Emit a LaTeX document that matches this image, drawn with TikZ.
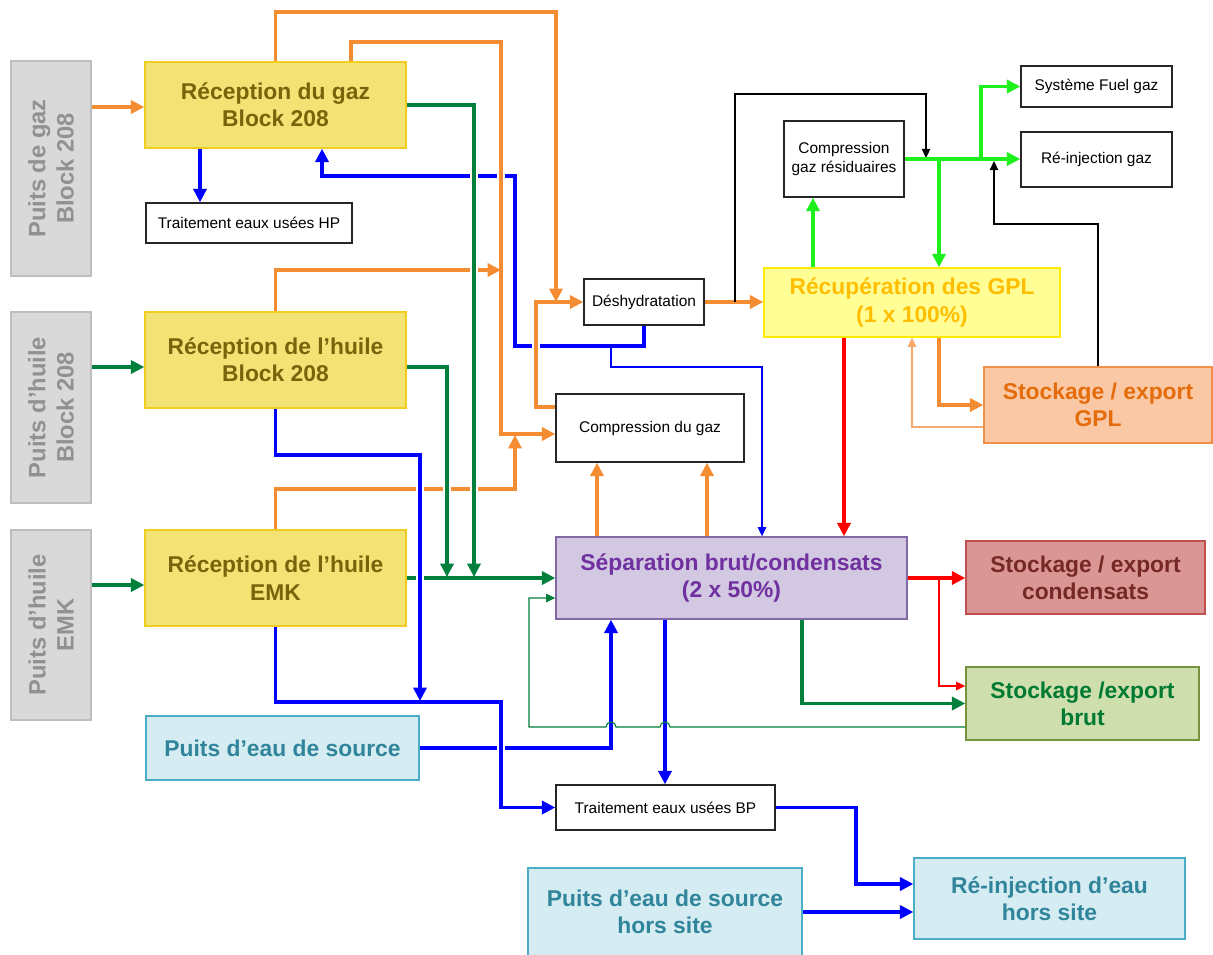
\documentclass[tikz,border=0pt]{standalone}
\usepackage{fontspec}
\setmainfont{Liberation Sans}
\usepackage{tikz}
\usetikzlibrary{arrows.meta,positioning,calc}
\definecolor{wellFill}{RGB}{217,217,217}
\definecolor{wellEdge}{RGB}{190,190,190}
\definecolor{wellText}{RGB}{145,145,145}
\definecolor{recFill}{RGB}{243,227,117}
\definecolor{recEdge}{RGB}{240,205,30}
\definecolor{recText}{RGB}{120,100,10}
\definecolor{lpgFill}{RGB}{255,255,150}
\definecolor{lpgEdge}{RGB}{255,235,0}
\definecolor{lpgText}{RGB}{255,190,0}
\definecolor{storeFill}{RGB}{250,200,165}
\definecolor{storeEdge}{RGB}{240,145,75}
\definecolor{storeText}{RGB}{228,108,10}
\definecolor{sepFill}{RGB}{210,200,225}
\definecolor{sepEdge}{RGB}{130,105,165}
\definecolor{sepText}{RGB}{112,48,160}
\definecolor{condFill}{RGB}{217,150,148}
\definecolor{condEdge}{RGB}{192,80,77}
\definecolor{condText}{RGB}{118,40,36}
\definecolor{crudeFill}{RGB}{206,222,172}
\definecolor{crudeEdge}{RGB}{118,146,60}
\definecolor{crudeText}{RGB}{0,122,50}
\definecolor{waterFill}{RGB}{212,236,242}
\definecolor{waterEdge}{RGB}{75,172,198}
\definecolor{waterText}{RGB}{49,133,155}
\definecolor{flowOrange}{RGB}{243,140,50}
\definecolor{flowPale}{RGB}{247,170,110}
\definecolor{flowGreen}{RGB}{0,128,60}
\definecolor{flowLime}{RGB}{30,240,30}
\definecolor{flowBlue}{RGB}{0,0,255}
\definecolor{flowRed}{RGB}{255,0,0}
\newcommand\boxfont{\fontsize{13pt}{15.5pt}\selectfont\bfseries}
\newcommand\wellfont{\fontsize{13.5pt}{16pt}\selectfont\bfseries}
\newcommand\unitfont{\fontsize{8.8pt}{10.4pt}\selectfont}
\tikzset{
  well/.style={draw=wellEdge, fill=wellFill, line width=0.8pt, text=wellText,
    font=\wellfont, align=center, inner sep=0pt, rotate=90, minimum height=1.6cm},
  recep/.style={draw=recEdge, fill=recFill, line width=0.8pt, text=recText,
    font=\boxfont, align=center, inner sep=0pt, minimum width=5.22cm, minimum height=1.92cm},
  unit/.style={draw=black!85, fill=white, line width=0.8pt, font=\unitfont,
    align=center, inner sep=0pt},
  product/.style={line width=0.8pt, font=\boxfont, align=center, inner sep=0pt},
  pipe/.style={line width=1.9pt, -{Triangle[length=7.6pt,width=7.4pt]}},
  thinpipe/.style={line width=0.65pt, -{Triangle[length=5.2pt,width=4.8pt]}},
  under/.style={preaction={draw=white, line width=4.8pt, -, shorten >=4pt, shorten <=4pt}},
}
\begin{document}
\begin{tikzpicture}[x=0.02cm, y=-0.02cm]
\useasboundingbox[fill=white] (0,0) rectangle (1213,954);

% wells
\node[well, minimum width=4.30cm] (gazwell) at (51,168.5) {Puits de gaz\\Block 208};
\node[well, minimum width=3.82cm] (oilwell) at (51,407.5) {Puits d’huile\\Block 208};
\node[well, minimum width=3.80cm] (emkwell) at (51,625) {Puits d’huile\\EMK};

% reception
\node[recep, minimum height=1.72cm] (recgaz) at (275.5,105) {Réception du gaz\\Block 208};
\node[recep] (recoil) at (275.5,360) {Réception de l’huile\\Block 208};
\node[recep] (recemk) at (275.5,578) {Réception de l’huile\\EMK};

% process units
\node[unit, minimum width=4.12cm, minimum height=0.80cm] (hpwater) at (249,223) {Traitement eaux usées HP};
\node[unit, minimum width=2.40cm, minimum height=0.92cm] (dehyd) at (644,302) {Déshydratation};
\node[unit, minimum width=3.76cm, minimum height=1.36cm] (gascomp) at (650,428) {Compression du gaz};
\node[unit, minimum width=2.40cm, minimum height=1.52cm] (resgas) at (844,159) {Compression\\gaz résiduaires};
\node[unit, minimum width=3.02cm, minimum height=0.82cm] (fuelgas) at (1096.5,86.5) {Système Fuel gaz};
\node[unit, minimum width=3.02cm, minimum height=1.10cm] (gasinj) at (1096.5,159.5) {Ré-injection gaz};
\node[unit, minimum width=4.38cm, minimum height=0.90cm] (bpwater) at (665.5,807.5) {Traitement eaux usées BP};

\node[product, draw=lpgEdge, fill=lpgFill, text=lpgText, minimum width=5.92cm, minimum height=1.38cm]
  (lpg) at (912,302.5) {Récupération des GPL\\(1 x 100\%)};
\node[product, draw=storeEdge, fill=storeFill, text=storeText, minimum width=4.56cm, minimum height=1.52cm]
  (lpgstore) at (1098,405) {Stockage / export\\GPL};
\node[product, draw=sepEdge, fill=sepFill, text=sepText, minimum width=7.02cm, minimum height=1.64cm]
  (sep) at (731.5,578) {Séparation brut/condensats\\(2 x 50\%)};
\node[product, draw=condEdge, fill=condFill, text=condText, minimum width=4.78cm, minimum height=1.46cm]
  (condstore) at (1085.5,577.5) {Stockage / export\\condensats};
\node[product, draw=crudeEdge, fill=crudeFill, text=crudeText, minimum width=4.66cm, minimum height=1.46cm]
  (crudestore) at (1082.5,703.5) {Stockage /export\\brut};
\node[product, draw=waterEdge, fill=waterFill, text=waterText, minimum width=5.46cm, minimum height=1.28cm]
  (srcwell) at (282.5,748) {Puits d’eau de source};
\node[product, draw=waterEdge, fill=waterFill, text=waterText, minimum width=5.48cm, minimum height=1.76cm]
  (offwell) at (665,912) {Puits d’eau de source\\hors site};
\node[product, draw=waterEdge, fill=waterFill, text=waterText, minimum width=5.42cm, minimum height=1.62cm]
  (waterinj) at (1049.5,898.5) {Ré-injection d’eau\\hors site};

% junctions
\coordinate (bsplit) at (611,346);
\coordinate (dtee) at (556,302);
\coordinate (ksplit) at (735,302);

% wells to reception
\draw[pipe, flowOrange] (gazwell.south |- 0,107) -- (recgaz.west |- 0,107);
\draw[pipe, flowGreen] (oilwell.south |- 0,367) -- (recoil.west |- 0,367);
\draw[pipe, flowGreen] (emkwell.south |- 0,585) -- (recemk.west |- 0,585);
\draw[pipe, flowBlue] (recgaz.south -| 200,0) -- (hpwater.north -| 200,0);

% water back from dehydration (runs under the others)
\draw[pipe, flowBlue] (dehyd.south) -- (644,346) -- (515,346) -- (515,176) -- (322,176) -- (recgaz.south -| 322,0);
\draw[thinpipe, flowBlue] (bsplit) -- (611,367) -- (762,367) -- (sep.north -| 762,0);

% gas lines
\draw[pipe, flowOrange, under] (gascomp.west |- 0,407) -- (536,407) -- (536,302) -- (dehyd.west);
\draw[pipe, flowOrange] (recgaz.north) |- (556,12) -- (dtee);
\draw[pipe, flowOrange, under] (recgaz.north -| 351,0) |- (501,42) -- (501,434) -- (gascomp.west |- 0,434);
\draw[pipe, flowOrange] (recoil.north) |- (501,270);
\draw[pipe, flowOrange] (recemk.north) |- (515,489) -- (515,435);

% oil lines
\draw[pipe, flowGreen] (recemk.east) -- (sep.west);
\draw[pipe, flowGreen, under] (recgaz.east) -| (474,577);
\draw[pipe, flowGreen, under] (recoil.east |- 0,367) -| (447,577);

% water lines
\draw[pipe, flowBlue] (srcwell.east) -| (sep.south -| 611,0);
\draw[pipe, flowBlue, under] (recemk.south) |- (501,702) |- (bpwater.west);
\draw[pipe, flowBlue, under] (recoil.south) |- (420,455) -- (420,701);
\draw[pipe, flowBlue] (sep.south -| 665,0) -- (bpwater.north -| 665,0);
\draw[pipe, flowBlue] (bpwater.east) -| (856,884) -- (waterinj.west |- 0,884);
\draw[pipe, flowBlue] (offwell.east |- 0,912) -- (waterinj.west |- 0,912);

% crude recycle
\draw[thinpipe, flowGreen] (crudestore.west |- 0,727) -- (670,727)
  arc[start angle=0, end angle=180, radius=0.1cm] -- (616,727)
  arc[start angle=0, end angle=180, radius=0.1cm] -- (529,727) -- (529,598) -- (sep.west |- 0,598);

% separation products
\draw[pipe, flowOrange] (sep.north -| 597,0) -- (gascomp.south -| 597,0);
\draw[pipe, flowOrange] (sep.north -| 707,0) -- (gascomp.south -| 707,0);
\draw[pipe, flowRed] (sep.east) -- (condstore.west |- sep.east);
\draw[thinpipe, flowRed] (939,578) |- (crudestore.west |- 0,686);
\draw[pipe, flowGreen] (sep.south -| 802,0) |- (crudestore.west);

% LPG section
\draw[pipe, flowOrange] (dehyd.east) -- (lpg.west |- dehyd.east);
\draw[thinpipe, black] (ksplit) |- (926,94) -- (926,158);
\draw[pipe, flowLime] (lpg.north -| 813,0) -- (resgas.south -| 813,0);
\draw[pipe, flowLime] (resgas.east) -- (gasinj.west |- resgas.east);
\draw[pipe, flowLime] (981,159) |- (fuelgas.west);
\draw[pipe, flowLime] (939,159) -- (lpg.north -| 939,0);
\draw[pipe, flowRed] (lpg.south -| 844,0) -- (sep.north -| 844,0);
\draw[pipe, flowOrange] (lpg.south -| 939,0) |- (lpgstore.west);
\draw[thinpipe, flowPale] (lpgstore.west |- 0,427) -| (lpg.south);
\draw[thinpipe, black] (lpgstore.north) |- (994,224) -- (994,161);
\end{tikzpicture}
\end{document}
